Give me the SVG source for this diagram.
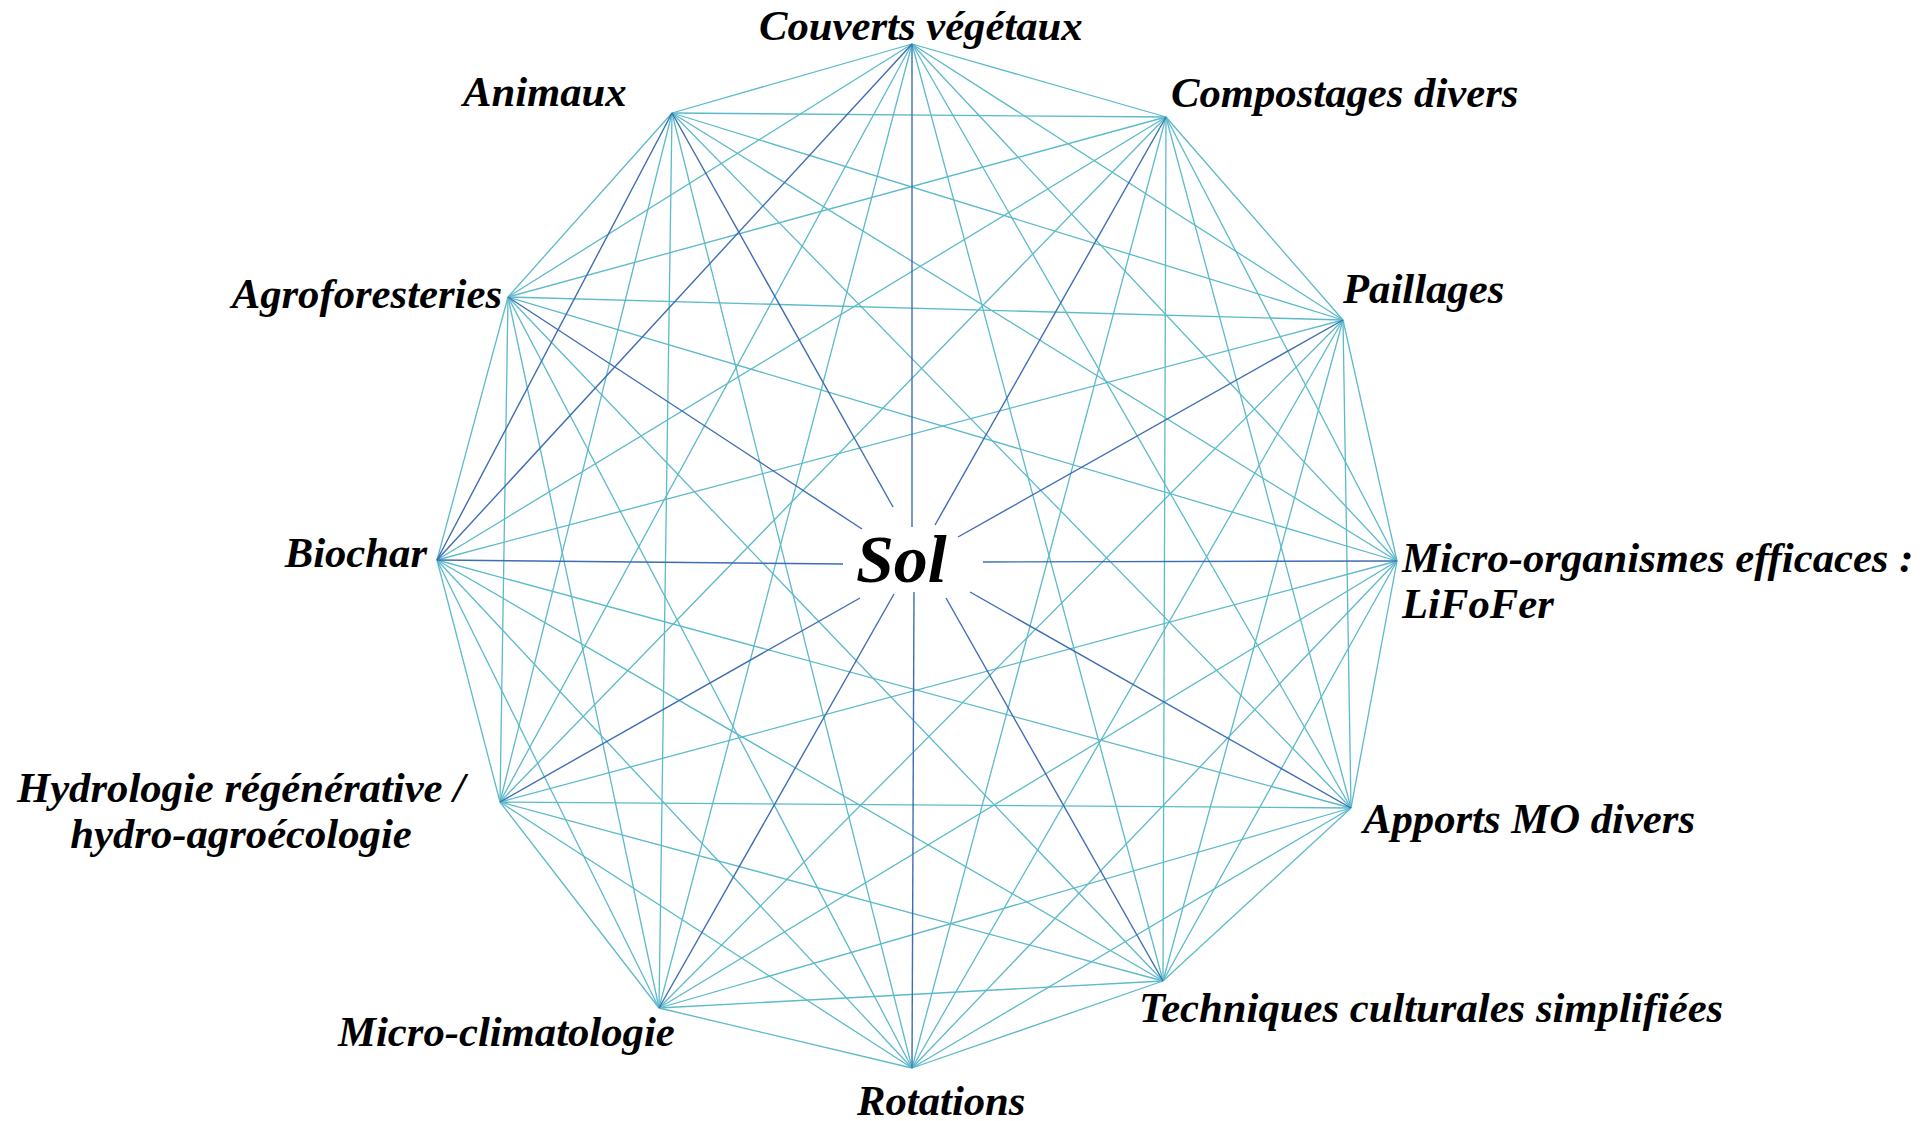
<svg xmlns="http://www.w3.org/2000/svg" width="1930" height="1121" viewBox="0 0 1930 1121">
<style>
.e{stroke:#5cbac9;stroke-width:1.3;fill:none}
.d{stroke:#3f6db3;stroke-width:1.4;fill:none}
.t{font-family:"Liberation Serif","Times New Roman",serif;font-weight:bold;font-style:italic;font-size:42.7px;fill:#000}
.s{font-size:68px}
</style>
<rect width="1930" height="1121" fill="#fff"/>
<g id="connectors">
<line class="e" x1="912" y1="44" x2="1166" y2="117"/>
<line class="e" x1="912" y1="44" x2="1343" y2="320"/>
<line class="e" x1="912" y1="44" x2="1397" y2="561"/>
<line class="e" x1="912" y1="44" x2="1351" y2="808"/>
<line class="e" x1="912" y1="44" x2="1163" y2="981"/>
<line class="e" x1="912" y1="44" x2="659" y2="1008"/>
<line class="e" x1="912" y1="44" x2="500" y2="802"/>
<line class="e" x1="912" y1="44" x2="508" y2="297"/>
<line class="e" x1="912" y1="44" x2="672" y2="113"/>
<line class="e" x1="1166" y1="117" x2="1343" y2="320"/>
<line class="e" x1="1166" y1="117" x2="1397" y2="561"/>
<line class="e" x1="1166" y1="117" x2="1351" y2="808"/>
<line class="e" x1="1166" y1="117" x2="1163" y2="981"/>
<line class="e" x1="1166" y1="117" x2="912" y2="1068"/>
<line class="e" x1="1166" y1="117" x2="500" y2="802"/>
<line class="e" x1="1166" y1="117" x2="437" y2="560"/>
<line class="e" x1="1166" y1="117" x2="508" y2="297"/>
<line class="e" x1="1166" y1="117" x2="672" y2="113"/>
<line class="e" x1="1343" y1="320" x2="1397" y2="561"/>
<line class="e" x1="1343" y1="320" x2="1351" y2="808"/>
<line class="e" x1="1343" y1="320" x2="1163" y2="981"/>
<line class="e" x1="1343" y1="320" x2="912" y2="1068"/>
<line class="e" x1="1343" y1="320" x2="659" y2="1008"/>
<line class="e" x1="1343" y1="320" x2="437" y2="560"/>
<line class="e" x1="1343" y1="320" x2="508" y2="297"/>
<line class="e" x1="1343" y1="320" x2="672" y2="113"/>
<line class="e" x1="1397" y1="561" x2="1351" y2="808"/>
<line class="e" x1="1397" y1="561" x2="1163" y2="981"/>
<line class="e" x1="1397" y1="561" x2="912" y2="1068"/>
<line class="e" x1="1397" y1="561" x2="659" y2="1008"/>
<line class="e" x1="1397" y1="561" x2="500" y2="802"/>
<line class="e" x1="1397" y1="561" x2="508" y2="297"/>
<line class="e" x1="1397" y1="561" x2="672" y2="113"/>
<line class="e" x1="1351" y1="808" x2="1163" y2="981"/>
<line class="e" x1="1351" y1="808" x2="912" y2="1068"/>
<line class="e" x1="1351" y1="808" x2="659" y2="1008"/>
<line class="e" x1="1351" y1="808" x2="500" y2="802"/>
<line class="e" x1="1351" y1="808" x2="437" y2="560"/>
<line class="e" x1="1351" y1="808" x2="672" y2="113"/>
<line class="e" x1="1163" y1="981" x2="912" y2="1068"/>
<line class="e" x1="1163" y1="981" x2="659" y2="1008"/>
<line class="e" x1="1163" y1="981" x2="500" y2="802"/>
<line class="e" x1="1163" y1="981" x2="437" y2="560"/>
<line class="e" x1="1163" y1="981" x2="508" y2="297"/>
<line class="e" x1="912" y1="1068" x2="659" y2="1008"/>
<line class="e" x1="912" y1="1068" x2="500" y2="802"/>
<line class="e" x1="912" y1="1068" x2="437" y2="560"/>
<line class="e" x1="912" y1="1068" x2="508" y2="297"/>
<line class="e" x1="912" y1="1068" x2="672" y2="113"/>
<line class="e" x1="659" y1="1008" x2="500" y2="802"/>
<line class="e" x1="659" y1="1008" x2="437" y2="560"/>
<line class="e" x1="659" y1="1008" x2="508" y2="297"/>
<line class="e" x1="659" y1="1008" x2="672" y2="113"/>
<line class="e" x1="500" y1="802" x2="437" y2="560"/>
<line class="e" x1="500" y1="802" x2="508" y2="297"/>
<line class="e" x1="500" y1="802" x2="672" y2="113"/>
<line class="e" x1="437" y1="560" x2="508" y2="297"/>
<line class="e" x1="508" y1="297" x2="672" y2="113"/>
<line class="d" x1="912" y1="44" x2="437" y2="560"/>
<line class="d" x1="437" y1="560" x2="672" y2="113"/>
<line class="d" x1="912" y1="44" x2="912" y2="527"/>
<line class="d" x1="1166" y1="117" x2="935" y2="525"/>
<line class="d" x1="1343" y1="320" x2="958" y2="537"/>
<line class="d" x1="1397" y1="561" x2="983" y2="562"/>
<line class="d" x1="1351" y1="808" x2="970" y2="592"/>
<line class="d" x1="1163" y1="981" x2="946" y2="598"/>
<line class="d" x1="912" y1="1068" x2="914" y2="592"/>
<line class="d" x1="659" y1="1008" x2="894" y2="594"/>
<line class="d" x1="500" y1="802" x2="860" y2="598"/>
<line class="d" x1="437" y1="560" x2="843" y2="564"/>
<line class="d" x1="508" y1="297" x2="862" y2="529"/>
<line class="d" x1="672" y1="113" x2="893" y2="507"/>
</g>
<g id="node-sol"><text class="t s" x="856" y="582">Sol</text></g>
<g id="node-couverts"><text class="t" x="759" y="40">Couverts végétaux</text></g>
<g id="node-compostages"><text class="t" x="1171" y="107">Compostages divers</text></g>
<g id="node-paillages"><text class="t" x="1343" y="303">Paillages</text></g>
<g id="node-microorganismes"><text class="t" x="1402" y="572">Micro-organismes efficaces :</text><text class="t" x="1402" y="618">LiFoFer</text></g>
<g id="node-apports"><text class="t" x="1363" y="833">Apports MO divers</text></g>
<g id="node-techniques"><text class="t" x="1139" y="1022">Techniques culturales simplifiées</text></g>
<g id="node-rotations"><text class="t" x="857" y="1115">Rotations</text></g>
<g id="node-microclimatologie"><text class="t" x="338" y="1046">Micro-climatologie</text></g>
<g id="node-hydrologie"><text class="t" x="241" y="802" text-anchor="middle">Hydrologie régénérative /</text><text class="t" x="241" y="848" text-anchor="middle">hydro-agroécologie</text></g>
<g id="node-biochar"><text class="t" x="427" y="567" text-anchor="end">Biochar</text></g>
<g id="node-agroforesteries"><text class="t" x="502" y="308" text-anchor="end">Agroforesteries</text></g>
<g id="node-animaux"><text class="t" x="463" y="106">Animaux</text></g>
</svg>
